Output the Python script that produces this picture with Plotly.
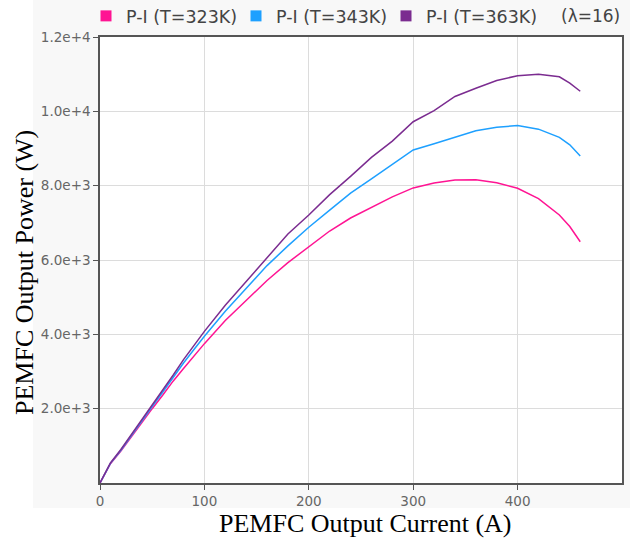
import plotly.graph_objects as go

# ---- data ----
current = [0, 10, 20, 30, 40, 50, 60, 70, 80, 90, 100, 120, 140, 160, 180, 200,
           220, 240, 260, 280, 300, 320, 340, 360, 380, 400, 420, 440, 450, 460]

p_323 = [0, 520, 860, 1250, 1620, 2000, 2360, 2740, 3080, 3420, 3750, 4370, 4920,
         5450, 5930, 6360, 6780, 7130, 7420, 7700, 7940, 8070, 8150, 8160, 8080,
         7930, 7650, 7210, 6900, 6490]

p_343 = [0, 530, 880, 1280, 1680, 2060, 2440, 2840, 3230, 3590, 3950, 4620, 5250,
         5850, 6380, 6880, 7340, 7800, 8180, 8580, 8960, 9130, 9300, 9480, 9570,
         9620, 9520, 9300, 9100, 8800]

p_363 = [0, 540, 900, 1300, 1700, 2080, 2480, 2900, 3320, 3700, 4080, 4780, 5430,
         6060, 6700, 7210, 7760, 8250, 8760, 9200, 9720, 10020, 10400, 10620, 10830,
         10960, 11000, 10930, 10760, 10540]

series_names = ["P-I (T=323K)", "P-I (T=343K)", "P-I (T=363K)"]
series_values = [p_323, p_343, p_363]
series_colors = ["#ff1493", "#1ea0ff", "#7b2c90"]

x_ticks = [0, 100, 200, 300, 400]
y_ticks = [2000, 4000, 6000, 8000, 10000, 12000]
note_text = "(λ=16)"
x_title = "PEMFC Output Current (A)"
y_title = "PEMFC Output Power (W)"

fig = go.Figure()

for name, vals, col in zip(series_names, series_values, series_colors):
    fig.add_trace(go.Scatter(x=current, y=vals, mode="lines", name=name,
                             line=dict(color=col, width=1.5), showlegend=False,
                             hoverinfo="skip"))
# legend entries shown as coloured squares
for name, col in zip(series_names, series_colors):
    fig.add_trace(go.Scatter(x=[None], y=[None], mode="markers", name=name,
                             marker=dict(symbol="square", size=11, color=col,
                                         line=dict(width=0)),
                             showlegend=True))

W, H = 630, 539
L, R, T, B = 100, 8, 37, 56
pw, ph = W - L - R, H - T - B

def px_x(p):
    return (p - L) / pw

def px_y(p):
    return (H - B - p) / ph

axis_common = dict(
    showline=True, linecolor="#555555", linewidth=1.5, mirror=True,
    ticks="outside", ticklen=5, tickcolor="#555555", tickwidth=1,
    showgrid=True, gridcolor="#dcdcdc", gridwidth=1, zeroline=False,
    tickfont=dict(family="DejaVu Sans", size=13.5, color="#666666"),
)

fig.update_layout(
    width=W, height=H,
    margin=dict(l=L, r=R, t=T, b=B, pad=0, autoexpand=False),
    paper_bgcolor="white", plot_bgcolor="rgba(0,0,0,0)",
    xaxis=dict(range=[0, 500], tickvals=x_ticks, **axis_common),
    yaxis=dict(range=[0, 12000], tickvals=y_ticks, tickformat=".1e", **axis_common),
    legend=dict(orientation="h", x=px_x(86), xanchor="left", y=px_y(16),
                yanchor="middle", entrywidth=105, entrywidthmode="pixels",
                font=dict(family="DejaVu Sans", size=17.5, color="#444444"),
                bgcolor="rgba(0,0,0,0)", itemclick=False),
    shapes=[
        dict(type="rect", xref="paper", yref="paper", layer="below",
             x0=px_x(33), x1=px_x(630), y0=px_y(508), y1=px_y(0),
             fillcolor="#f8f8f8", line=dict(width=0)),
        dict(type="rect", xref="paper", yref="paper", layer="below",
             x0=0, x1=1, y0=0, y1=1, fillcolor="white", line=dict(width=0)),
    ],
    annotations=[
        dict(text=note_text, xref="paper", yref="paper", x=px_x(590), y=px_y(16),
             xanchor="center", yanchor="middle", showarrow=False,
             font=dict(family="DejaVu Sans", size=17, color="#444444")),
        dict(text=x_title, xref="paper", yref="paper", x=px_x(365), y=px_y(523),
             xanchor="center", yanchor="middle", showarrow=False,
             font=dict(family="Liberation Serif", size=26, color="black")),
        dict(text=y_title, xref="paper", yref="paper", x=px_x(24), y=px_y(273),
             xanchor="center", yanchor="middle", showarrow=False, textangle=-90,
             font=dict(family="Liberation Serif", size=26, color="black")),
    ],
)

fig.write_html("out.html")
